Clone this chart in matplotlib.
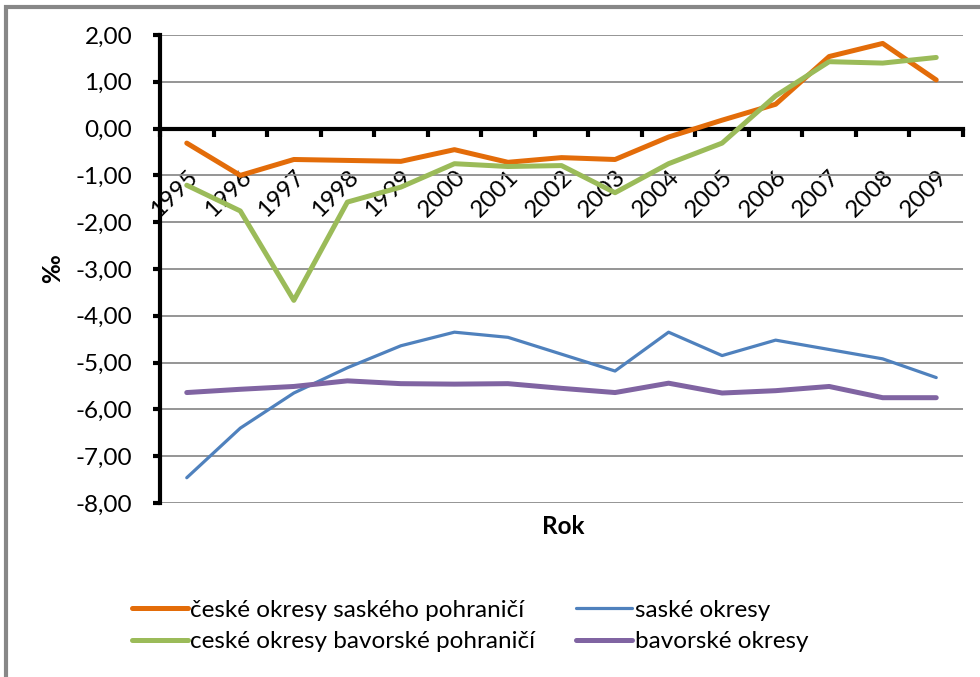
import matplotlib
matplotlib.use('Agg')
import matplotlib.pyplot as plt
from matplotlib.ticker import FixedLocator, FuncFormatter
from matplotlib.patches import Rectangle

plt.rcParams['font.family'] = ['Lato', 'DejaVu Sans']

# Data (per mille)
years = ['1995', '1996', '1997', '1998', '1999', '2000', '2001', '2002',
         '2003', '2004', '2005', '2006', '2007', '2008', '2009']
cz_saxony_border = [-0.31, -1.00, -0.66, -0.68, -0.70, -0.45, -0.72, -0.62,
                    -0.66, -0.18, 0.18, 0.52, 1.54, 1.82, 1.04]
saxony = [-7.46, -6.40, -5.65, -5.11, -4.64, -4.35, -4.46, -4.82,
          -5.18, -4.35, -4.85, -4.52, -4.72, -4.92, -5.32]
cz_bavaria_border = [-1.21, -1.76, -3.67, -1.57, -1.25, -0.75, -0.81, -0.79,
                     -1.37, -0.75, -0.31, 0.70, 1.43, 1.40, 1.52]
bavaria = [-5.64, -5.57, -5.51, -5.39, -5.45, -5.46, -5.45, -5.55,
           -5.64, -5.44, -5.65, -5.60, -5.51, -5.75, -5.75]

fs = 17.5

fig = plt.figure(figsize=(9.8, 6.77), dpi=100)
ax = fig.add_axes([160 / 980, 1 - 503 / 677, 803 / 980, 468 / 677])

x = list(range(len(years)))
l1, = ax.plot(x, cz_saxony_border, color='#E36C09', lw=3.6, solid_capstyle='round')
l2, = ax.plot(x, saxony, color='#4F81BD', lw=2.3, solid_capstyle='round')
l3, = ax.plot(x, cz_bavaria_border, color='#9BBB59', lw=3.6, solid_capstyle='round')
l4, = ax.plot(x, bavaria, color='#8064A2', lw=3.6, solid_capstyle='round')

ax.set_xlim(-0.5, len(years) - 0.5)
ax.set_ylim(-8, 2)
ax.yaxis.grid(True, color='#8c8c8c', lw=1.3)
ax.set_axisbelow(True)

for s in ['top', 'right']:
    ax.spines[s].set_visible(False)
ax.spines['left'].set_linewidth(3)
ax.spines['bottom'].set_linewidth(3)
ax.spines['bottom'].set_position(('data', 0))
ax.spines['bottom'].set_zorder(1.5)

ax.set_yticks(range(-8, 3))
ax.yaxis.set_major_formatter(FuncFormatter(lambda v, p: ('%.2f' % v).replace('.', ',')))
ax.tick_params(axis='y', direction='out', length=5, width=3, labelsize=fs, pad=15)

# ticks at category boundaries, labels at centres
ax.xaxis.set_major_locator(FixedLocator([i - 0.5 for i in range(len(years) + 1)]))
ax.xaxis.set_minor_locator(FixedLocator(x))
ax.tick_params(axis='x', which='major', direction='out', length=6, width=3, labelbottom=False)
ax.tick_params(axis='x', which='minor', length=0, labelsize=fs, pad=27)
ax.set_xticks(x, minor=True)
ax.set_xticklabels(years, minor=True, rotation=45, ha='right', va='top', rotation_mode='anchor')

ax.set_ylabel('‰', fontsize=fs, fontweight='bold', labelpad=8)
fig.text(563 / 980, 1 - 527 / 677, 'Rok', fontsize=fs, fontweight='bold', ha='center', va='center')

fig.legend([l1, l3, l2, l4],
           ['české okresy saského pohraničí', 'ceské okresy bavorské pohraničí',
            'saské okresy', 'bavorské okresy'],
           ncol=2, frameon=False, fontsize=fs, loc='center',
           bbox_to_anchor=(470 / 980, 1 - 626 / 677),
           handlelength=2.3, handletextpad=0.1, columnspacing=1.7, labelspacing=0.45)

# outer chart frame (partly cut off in the reference)
fig.patches.append(Rectangle((6 / 980, -0.05), 1.2, (677 - 7) / 677 + 0.05,
                             transform=fig.transFigure, fill=False,
                             edgecolor='#878787', lw=3))

fig.savefig('out.png', dpi=100)
